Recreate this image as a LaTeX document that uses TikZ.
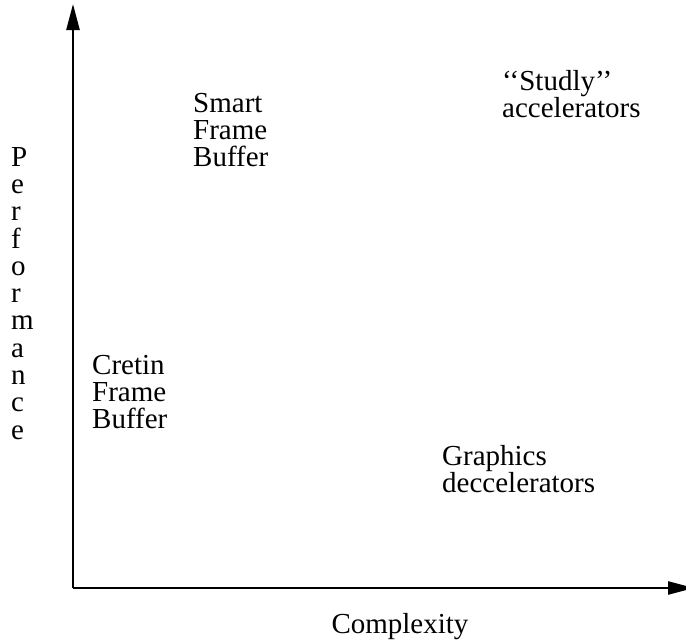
\documentclass[tikz,border=0pt]{standalone}
\usepackage{fontspec}
\setmainfont{Liberation Serif}
\usetikzlibrary{arrows.meta}

\tikzset{
    label text/.style={anchor=north west, inner sep=0pt, align=left,
        font=\fontsize{29}{27}\selectfont},
    axis line/.style={line width=2.5pt, -{Triangle[length=26pt,width=13pt]}},
}

\begin{document}
\begin{tikzpicture}[x=1pt,y=-1pt]
    \useasboundingbox (0,0) rectangle (686,640);
    % axes
    \coordinate (origin) at (73,588);
    \coordinate (ytop) at (73,4);
    \coordinate (xend) at (694,588);
    \draw[axis line] (origin) -- (ytop);
    \draw[axis line] (origin) -- (xend);

    % axis labels
    \node[label text, anchor=north] (complexity) at (400,613) {Complexity};
    \node[label text, font=\fontsize{29}{27.3}\selectfont] (performance) at (11,147)
        {P\\e\\r\\f\\o\\r\\m\\a\\n\\c\\e};

    % quadrants
    \node[label text] (smart) at (193,93) {Smart\\Frame\\Buffer};
    \node[label text] (studly) at (502,70) {‘‘Studly’’\\accelerators};
    \node[label text] (cretin) at (92,355) {Cretin\\Frame\\Buffer};
    \node[label text] (graphics) at (442,445) {Graphics\\deccelerators};
\end{tikzpicture}
\end{document}
